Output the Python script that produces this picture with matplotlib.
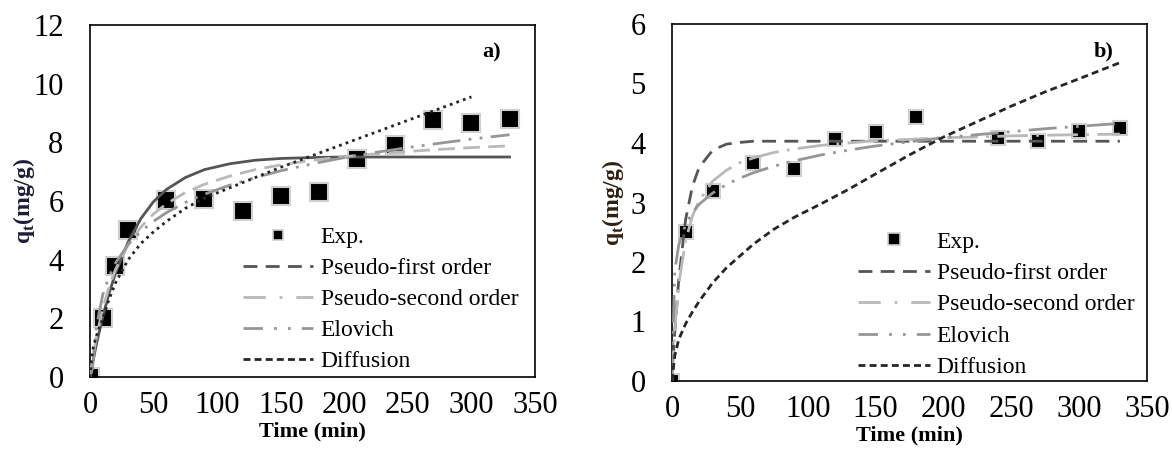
import matplotlib
matplotlib.use("Agg")
import matplotlib.pyplot as plt
from matplotlib.lines import Line2D

plt.rcParams['font.family'] = ['Liberation Serif', 'DejaVu Serif']
plt.rcParams['mathtext.fontset'] = 'custom'
plt.rcParams['mathtext.rm'] = 'Liberation Serif'
plt.rcParams['mathtext.bf'] = 'Liberation Serif:bold'

# ---------------- data ----------------
x_ticks = [0, 50, 100, 150, 200, 250, 300, 350]
ya_ticks = [0, 2, 4, 6, 8, 10, 12]
yb_ticks = [0, 1, 2, 3, 4, 5, 6]
legend_labels = ["Exp.", "Pseudo-first order", "Pseudo-second order", "Elovich", "Diffusion"]

# panel a) experimental
ta_exp = [0, 10, 20, 30, 60, 90, 120, 150, 180, 210, 240, 270, 300, 330]
qa_exp = [0, 2.02, 3.78, 5.02, 6.04, 6.07, 5.65, 6.16, 6.29, 7.43, 7.91, 8.76, 8.67, 8.79]
# panel b) experimental
tb_exp = [0, 10, 30, 60, 90, 120, 150, 180, 240, 270, 300, 330]
qb_exp = [0, 2.51, 3.19, 3.67, 3.57, 4.06, 4.18, 4.44, 4.08, 4.03, 4.21, 4.25]

# model curves
t_fit = [0, 2, 5, 10, 15, 20, 30, 40, 50, 60, 75, 90, 110, 130, 150, 175, 200, 225, 250, 275, 300, 330]
qa_pfo = [0, 0.46, 1.11, 2.05, 2.85, 3.53, 4.60, 5.40, 5.98, 6.39, 6.80, 7.07, 7.27, 7.39, 7.45, 7.48,
          7.50, 7.50, 7.50, 7.50, 7.50, 7.50]
qa_pso = [0, 0.60, 1.35, 2.33, 3.07, 3.66, 4.51, 5.11, 5.56, 5.90, 6.29, 6.57, 6.85, 7.07, 7.23, 7.39,
          7.51, 7.61, 7.69, 7.76, 7.82, 7.88]
qa_elo = [0, 0.30, 1.72, 2.80, 3.43, 3.88, 4.52, 4.96, 5.31, 5.60, 5.95, 6.23, 6.54, 6.80, 7.03, 7.27,
          7.48, 7.66, 7.82, 7.97, 8.11, 8.26]
ta_dif = t_fit[:-1]
qa_dif = [0, 0.90, 1.40, 2.00, 2.65, 3.20, 4.00, 4.55, 4.95, 5.30, 5.75, 6.10, 6.45, 6.80, 7.15, 7.55,
          7.95, 8.35, 8.75, 9.15, 9.55]

qb_pfo = [0, 0.81, 1.71, 2.71, 3.27, 3.59, 3.88, 3.98, 4.01, 4.03, 4.03, 4.03, 4.03, 4.03, 4.03, 4.03,
          4.03, 4.03, 4.03, 4.03, 4.03, 4.03]
qb_pso = [0, 0.85, 1.63, 2.36, 2.77, 3.03, 3.36, 3.54, 3.67, 3.75, 3.84, 3.90, 3.96, 4.00, 4.04, 4.06,
          4.09, 4.10, 4.12, 4.13, 4.14, 4.15]
qb_elo = [0, 1.84, 2.29, 2.63, 2.83, 2.97, 3.16, 3.30, 3.41, 3.50, 3.61, 3.70, 3.80, 3.88, 3.95, 4.02,
          4.09, 4.14, 4.19, 4.24, 4.28, 4.33]
qb_dif = [0, 0.42, 0.70, 0.96, 1.16, 1.34, 1.65, 1.90, 2.10, 2.30, 2.55, 2.75, 2.98, 3.22, 3.48, 3.80,
          4.10, 4.36, 4.62, 4.86, 5.08, 5.35]

# ---------------- styles ----------------
c_pfo = '#555555'
c_pso = '#b9b9b9'
c_elo = '#969696'
c_dif = '#262626'
ls_pfo = (0, (5, 3))
ls_pso = (0, (11, 3, 1, 3))
ls_elo = (0, (10, 3, 1, 3, 1, 3))
ls_dif = (0, (2.5, 1.5))
LW = 2.0

fig = plt.figure(figsize=(11.72, 4.57), dpi=100)
axA = fig.add_axes([90/1172, 1-377/457, 445/1172, 352/457])
axB = fig.add_axes([672/1172, 1-381/457, 475/1172, 357/457])


def style_axes(ax, yticks, ylab_color, ylabpad):
    ax.set_xlim(0, 350)
    ax.set_ylim(yticks[0], yticks[-1])
    ax.set_xticks(x_ticks)
    ax.set_yticks(yticks)
    ax.tick_params(axis='both', length=0, labelsize=22)
    ax.tick_params(axis='y', pad=19)
    ax.tick_params(axis='x', pad=10)
    for s in ax.spines.values():
        s.set_linewidth(1.2)
        s.set_color('black')
    ax.set_xlabel('Time (min)', fontsize=16, fontweight='bold', labelpad=1)
    ax.set_ylabel(r'q$_{\mathbf{t}}$(mg/g)', fontsize=17, fontweight='bold',
                  color=ylab_color, labelpad=ylabpad)


def make_handles(ms):
    return [
        Line2D([], [], ls='none', marker='s', ms=ms, mfc='black', mec='#cfcfcf', mew=1.2),
        Line2D([], [], color=c_pfo, lw=LW, ls=ls_pfo),
        Line2D([], [], color=c_pso, lw=LW, ls=(0, (8, 5, 1, 5))),
        Line2D([], [], color=c_elo, lw=LW, ls=(0, (7, 4, 1, 4, 1, 4))),
        Line2D([], [], color=c_dif, lw=LW, ls=ls_dif),
    ]


# ---- panel a ----
axA.plot(ta_exp, qa_exp, ls='none', marker='s', ms=13.5, mfc='black', mec='#cfcfcf', mew=1.5, zorder=2)
axA.plot(t_fit, qa_pfo, color=c_pfo, lw=LW, ls='-', zorder=3)
axA.plot(t_fit, qa_pso, color=c_pso, lw=LW, ls=(0, (6, 3)), zorder=3)
axA.plot(t_fit, qa_elo, color=c_elo, lw=LW, ls=ls_elo, zorder=3)
axA.plot(ta_dif, qa_dif, color=c_dif, lw=LW, ls=(0, (1, 1.5)), zorder=3)
style_axes(axA, ya_ticks, '#1c1c36', -3)
axA.text(316, 11.05, 'a)', fontsize=16, fontweight='bold', ha='center', va='center')
axA.legend(make_handles(7.5), legend_labels, loc='upper left', bbox_to_anchor=(0.343, 0.427),
           frameon=False, fontsize=17, handlelength=3.0, handletextpad=0.3, labelspacing=0.40,
           borderpad=0, borderaxespad=0)

# ---- panel b ----
axB.plot(tb_exp, qb_exp, ls='none', marker='s', ms=10.5, mfc='black', mec='#cfcfcf', mew=1.5, zorder=2)
axB.plot(t_fit, qb_pfo, color=c_pfo, lw=LW, ls=ls_pfo, zorder=3)
axB.plot(t_fit, qb_pso, color=c_pso, lw=LW, ls=ls_pso, zorder=3)
axB.plot(t_fit, qb_elo, color=c_elo, lw=LW, ls=ls_elo, zorder=3)
axB.plot(t_fit, qb_dif, color=c_dif, lw=LW, ls=ls_dif, zorder=3)
style_axes(axB, yb_ticks, '#2e1f10', 3)
axB.text(318, 5.54, 'b)', fontsize=16, fontweight='bold', ha='center', va='center')
axB.legend(make_handles(8), legend_labels, loc='upper left', bbox_to_anchor=(0.391, 0.42),
           frameon=False, fontsize=17, handlelength=3.05, handletextpad=0.3, labelspacing=0.42,
           borderpad=0, borderaxespad=0)

fig.savefig('out.png', dpi=100, facecolor='white')
